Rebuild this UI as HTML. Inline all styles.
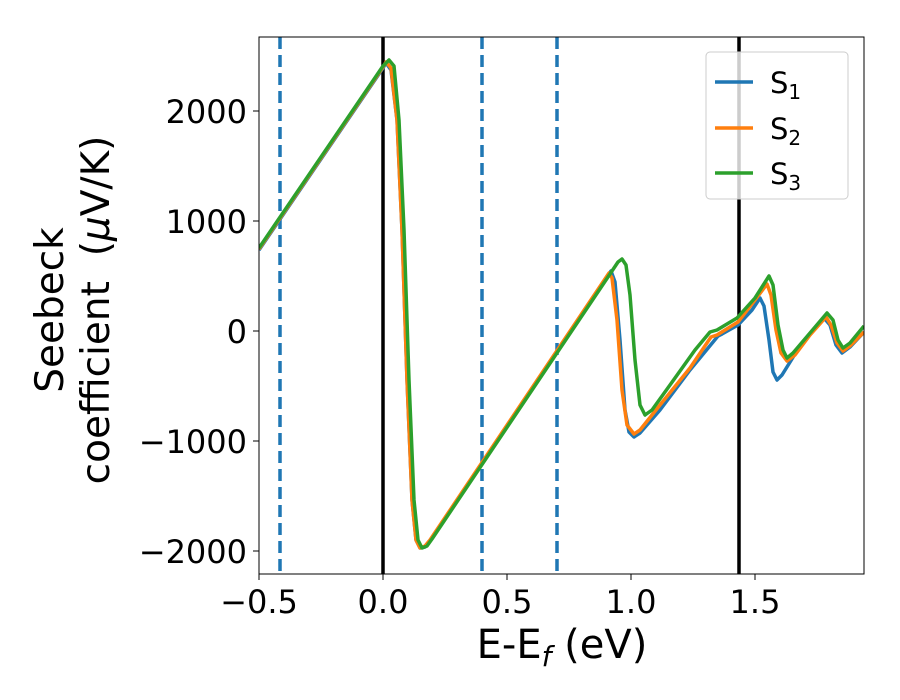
<!DOCTYPE html>
<html><head><meta charset="utf-8"><style>body{margin:0;background:#fff}svg{display:block}</style></head><body>
<svg width="900" height="700" xmlns="http://www.w3.org/2000/svg" font-family="'DejaVu Sans','Liberation Sans',sans-serif">
<rect width="900" height="700" fill="#fff"/>
<defs><clipPath id="c"><rect x="259" y="37" width="605" height="537"/></clipPath></defs>
<g clip-path="url(#c)">
<g stroke="#1f77b4" stroke-width="3.5" stroke-dasharray="12,6">
<line x1="280" y1="37" x2="280" y2="574"/><line x1="482" y1="37" x2="482" y2="574"/><line x1="557" y1="37" x2="557" y2="574"/></g>
<line x1="383" y1="37" x2="383" y2="574" stroke="#000" stroke-width="3.5"/>
<line x1="739" y1="37" x2="739" y2="574" stroke="#000" stroke-width="3.5"/>
<g fill="none" stroke-width="3.5" stroke-linejoin="round">
<polyline stroke="#1f77b4" points="259,250 383,68 386,63 391,70 397,120 402,230 407,380 412,500 416,540 420,548 425,547 430,541 611,271 615,282 620,340 625,410 629,432 634,437 640,433 660,410 690,370 718,336 722,334 738,325 752,310 760,298 764,306 769,340 773,372 777,380 782,375 800,346 815,328 824,318 830,325 836,345 842,353 850,347 864,332"/>
<polyline stroke="#ff7f0e" points="259,249 383,67 386,62 391,68 397,120 402,230 407,380 412,500 416,540 420,548 425,546 430,540 609,273 612,278 617,320 622,390 627,425 634,434 640,430 660,405 690,368 711,337 717,335 738,322 755,300 767,284 771,295 776,330 781,353 787,361 795,355 810,335 826,317 831,325 837,343 843,351 850,346 864,332"/>
<polyline stroke="#2ca02c" points="259,248 383,66 389,60 394,66 399,120 404,230 409,380 414,500 418,540 422,548 427,546 432,539 612,271 618,262 622,259 626,265 630,295 635,360 640,405 645,415 652,410 670,385 695,350 710,332 717,330 737,318 755,298 769,276 773,285 778,325 783,350 787,358 793,353 810,333 827,313 833,320 838,340 843,348 850,343 864,326"/>
</g></g>
<rect x="259" y="37" width="605" height="537" fill="none" stroke="#000" stroke-width="1"/>
<g stroke="#000" stroke-width="1">
<line x1="259" y1="574" x2="259" y2="580"/><line x1="383" y1="574" x2="383" y2="580"/><line x1="507" y1="574" x2="507" y2="580"/><line x1="631" y1="574" x2="631" y2="580"/><line x1="755" y1="574" x2="755" y2="580"/>
<line x1="253" y1="111" x2="259" y2="111"/><line x1="253" y1="221" x2="259" y2="221"/><line x1="253" y1="331" x2="259" y2="331"/><line x1="253" y1="441" x2="259" y2="441"/><line x1="253" y1="551" x2="259" y2="551"/>
</g>
<g font-size="32" text-anchor="middle" fill="#000">
<text x="259" y="613">−0.5</text><text x="383" y="613">0.0</text><text x="507" y="613">0.5</text><text x="631" y="613">1.0</text><text x="755" y="613">1.5</text>
</g>
<g font-size="32" text-anchor="end" fill="#000">
<text x="247" y="123">2000</text><text x="247" y="233">1000</text><text x="247" y="343">0</text><text x="247" y="453">−1000</text><text x="247" y="563">−2000</text>
</g>
<text x="562" y="658" font-size="40" text-anchor="middle">E-E<tspan font-style="italic" font-size="28" dy="8">f</tspan><tspan dy="-8"> (eV)</tspan></text>
<g transform="translate(63,310) rotate(-90)" font-size="39" text-anchor="middle">
<text x="0" y="0">Seebeck</text>
<text x="0" y="46">coefficient&#160;&#160;(<tspan font-style="italic">μ</tspan>V/K)</text>
</g>
<rect x="706" y="52" width="142" height="147" rx="4" fill="#fff" stroke="#ccc" stroke-width="1" fill-opacity="0.8"/>
<g stroke-width="3.5">
<line x1="715" y1="82" x2="753" y2="82" stroke="#1f77b4"/>
<line x1="715" y1="128" x2="753" y2="128" stroke="#ff7f0e"/>
<line x1="715" y1="173" x2="753" y2="173" stroke="#2ca02c"/>
</g>
<g font-size="29">
<text x="770" y="93">S<tspan font-size="20" dy="6">1</tspan></text>
<text x="770" y="139">S<tspan font-size="20" dy="6">2</tspan></text>
<text x="770" y="184">S<tspan font-size="20" dy="6">3</tspan></text>
</g>
</svg>
</body></html>
